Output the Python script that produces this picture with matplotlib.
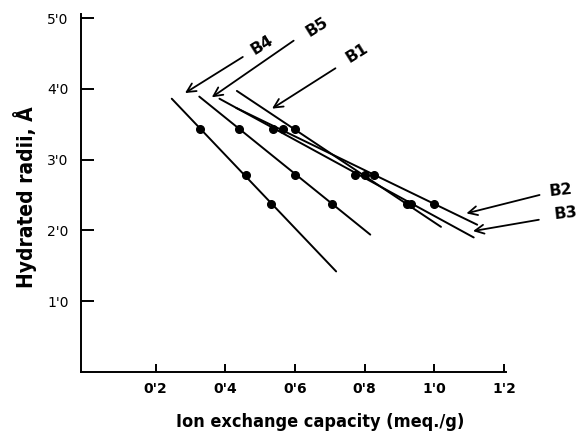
import numpy as np
import matplotlib
matplotlib.use("Agg")
import matplotlib.pyplot as plt

matplotlib.rcParams['font.family'] = ["DejaVu Sans"]

# %% data
series = ["B1", "B2", "B3", "B4", "B5"]
radii = [3.43, 2.78, 2.37]

b1_x = [0.600, 0.802, 0.921]
b2_x = [0.564, 0.826, 0.998]
b3_x = [0.538, 0.773, 0.934]
b4_x = [0.328, 0.459, 0.532]
b5_x = [0.438, 0.600, 0.706]

# hand drawn fitted lines (start, end)
b1_line_x = [0.433, 1.019]
b1_line_y = [3.97, 2.05]
b2_line_x = [0.431, 1.123]
b2_line_y = [3.73, 2.08]
b3_line_x = [0.383, 1.113]
b3_line_y = [3.86, 1.90]
b4_line_x = [0.246, 0.718]
b4_line_y = [3.86, 1.42]
b5_line_x = [0.325, 0.816]
b5_line_y = [3.89, 1.94]

x_ticks = [0.2, 0.4, 0.6, 0.8, 1.0, 1.2]
x_tick_labels = ["0'2", "0'4", "0'6", "0'8", "1'0", "1'2"]
y_ticks = [1.0, 2.0, 3.0, 4.0, 5.0]
y_tick_labels = ["1'0", "2'0", "3'0", "4'0", "5'0"]

dotX = {"B1": b1_x, "B2": b2_x, "B3": b3_x, "B4": b4_x, "B5": b5_x}
lineX = {"B1": b1_line_x, "B2": b2_line_x, "B3": b3_line_x, "B4": b4_line_x, "B5": b5_line_x}
lineY = {"B1": b1_line_y, "B2": b2_line_y, "B3": b3_line_y, "B4": b4_line_y, "B5": b5_line_y}

# label placement: text centre, arrow tail, arrow head, rotation
labelPos = {
    "B4": ((0.504, 4.62), (0.450, 4.45), (0.284, 3.94), 32),
    "B5": ((0.663, 4.88), (0.596, 4.68), (0.361, 3.88), 32),
    "B1": ((0.778, 4.50), (0.716, 4.29), (0.534, 3.72), 32),
    "B2": ((1.362, 2.57), (1.302, 2.50), (1.092, 2.24), 6),
    "B3": ((1.376, 2.24), (1.300, 2.15), (1.111, 1.99), 6),
}

# %%
fig = plt.figure(figsize=(5.8, 4.32), dpi=100)
ax = fig.add_axes([0.14, 0.139, 0.732, 0.8275])

for s in series:
    ax.plot(lineX[s], lineY[s], color="black", lw=1.4, solid_capstyle="round")
    ax.plot(dotX[s], radii, "o", color="black", ms=5.5)

for s in series:
    textPos, tail, head, rot = labelPos[s]
    ax.annotate("", xy=head, xytext=tail, annotation_clip=False,
                arrowprops=dict(arrowstyle="->", lw=1.3, color="black",
                                mutation_scale=16, shrinkA=0, shrinkB=0))
    ax.text(textPos[0], textPos[1], s, rotation=rot, ha="center", va="center",
            fontsize=11.5, fontweight="bold", clip_on=False)

ax.set_xlim(-0.014, 1.205)
ax.set_ylim(0, 5.05)
ax.set_xticks(x_ticks)
ax.set_xticklabels(x_tick_labels, fontweight="bold")
ax.set_yticks(y_ticks)
ax.set_yticklabels(y_tick_labels)

ax.spines["top"].set_visible(False)
ax.spines["right"].set_visible(False)
ax.spines["left"].set_linewidth(1.4)
ax.spines["bottom"].set_linewidth(1.4)
ax.tick_params(axis="x", direction="in", length=6, width=1.4, pad=7, labelsize=10)
ax.tick_params(axis="y", direction="in", length=9, width=1.4, pad=9, labelsize=10)

labelFamily = ["DejaVu Sans Condensed", "DejaVu Sans"]
ax.set_xlabel("Ion exchange capacity (meq./g)", family=labelFamily, size=13, weight="bold")
ax.set_ylabel("Hydrated radii, Å", family=labelFamily, size=15, weight="bold")
ax.xaxis.label.set_fontstretch("condensed")
ax.yaxis.label.set_fontstretch("condensed")
ax.xaxis.set_label_coords(0.563, -0.115)
ax.yaxis.set_label_coords(-0.105, 0.49)

plt.savefig("out.png", dpi=100)
